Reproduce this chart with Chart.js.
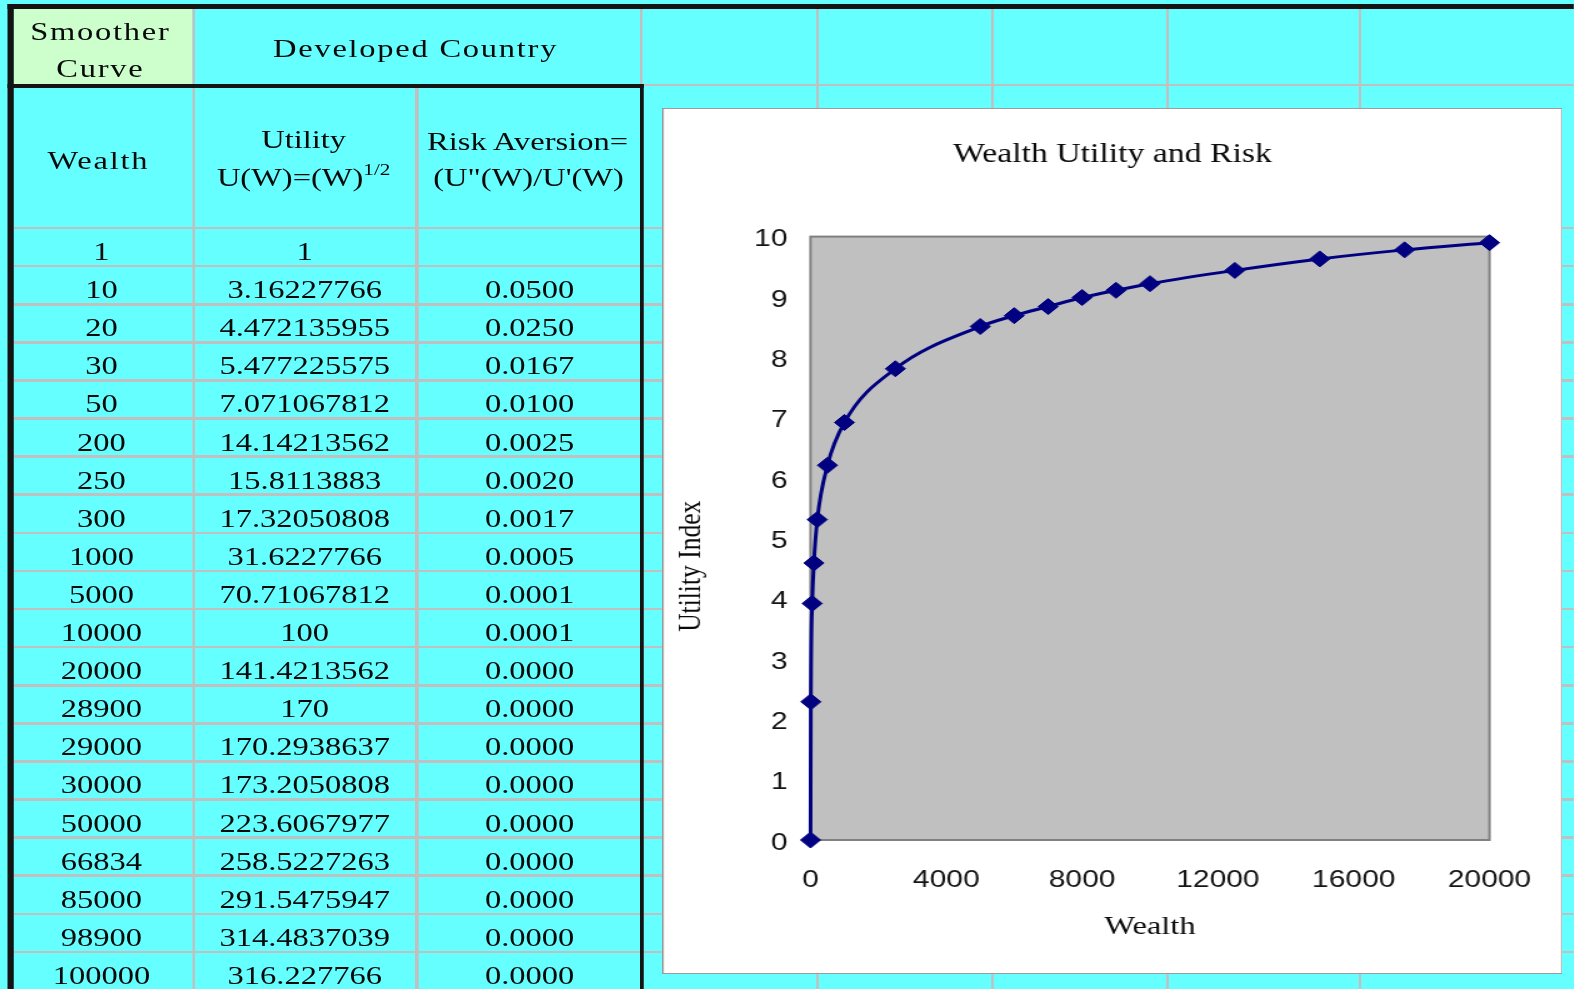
<!DOCTYPE html>
<html>
<head>
<meta charset="utf-8">
<title>Wealth Utility and Risk</title>
<script src="https://cdn.jsdelivr.net/npm/chart.js@4.4.1/dist/chart.umd.min.js"></script>
<style>
  html, body { margin: 0; padding: 0; }
  body { width: 1574px; height: 989px; overflow: hidden; background: #66ffff; position: relative; }
  /* the sheet is laid out narrow and widened as a whole */
  #sheet { position: absolute; left: 0; top: 0; width: 1259.2px; height: 989px;
           transform: scaleX(1.25); transform-origin: 0 0; }
  .ln { position: absolute; }
  .txt { position: absolute; text-align: center; white-space: nowrap;
         font-family: "Liberation Serif", "Times New Roman", serif; font-size: 26px; color: #0a0a0a;
         height: 30px; line-height: 30px; }
  .hdr { letter-spacing: 1.4px; }
  .txt sup { font-size: 17px; vertical-align: 11px; line-height: 0; }
  #chartBox { position: absolute; background: #fff; z-index: 5;
              outline: 1px solid #9c9c9c; outline-offset: -1px; }
  #chartBox canvas { position: absolute; left: 0; top: 0; }
</style>
</head>
<body>
<div id="sheet">
  <div id="chartBox"><canvas id="c"></canvas></div>
</div>
<script>
// ---- table: Developed Country ----
const wealth = [1, 10, 20, 30, 50, 200, 250, 300, 1000, 5000, 10000, 20000,
                28900, 29000, 30000, 50000, 66834, 85000, 98900, 100000];
const utility = ['1', '3.16227766', '4.472135955', '5.477225575', '7.071067812',
                 '14.14213562', '15.8113883', '17.32050808', '31.6227766', '70.71067812',
                 '100', '141.4213562', '170', '170.2938637', '173.2050808',
                 '223.6067977', '258.5227263', '291.5475947', '314.4837039', '316.227766'];
const riskAversion = ['', '0.0500', '0.0250', '0.0167', '0.0100', '0.0025', '0.0020',
                      '0.0017', '0.0005', '0.0001', '0.0001', '0.0000', '0.0000', '0.0000',
                      '0.0000', '0.0000', '0.0000', '0.0000', '0.0000', '0.0000'];

// ---- chart: Wealth Utility and Risk ----
const chartWealth  = [1, 10, 50, 100, 200, 500, 1000, 2500, 5000, 6000, 7000,
                      8000, 9000, 10000, 12500, 15000, 17500, 20000];
const chartUtility = [0, 2.29, 3.92, 4.59, 5.31, 6.21, 6.92, 7.81, 8.51, 8.69, 8.84,
                      8.99, 9.11, 9.22, 9.44, 9.63, 9.78, 9.9];
const xTicks = [0, 4000, 8000, 12000, 16000, 20000];
const yTicks = [0, 1, 2, 3, 4, 5, 6, 7, 8, 9, 10];

// ---- sheet drawing ----
const S = 1.25;                       // horizontal widening of the sheet
const sheet = document.getElementById('sheet');
const chartBox = document.getElementById('chartBox');
const ROW0 = 228, ROWH = 38.1;        // first data row top, row height

function rect(x1, y1, x2, y2, color) {
  const d = document.createElement('div');
  d.className = 'ln';
  d.style.left = (x1 / S) + 'px';
  d.style.top = y1 + 'px';
  d.style.width = ((x2 - x1) / S) + 'px';
  d.style.height = (y2 - y1) + 'px';
  d.style.background = color;
  sheet.insertBefore(d, chartBox);
}
function text(cx, cy, html, cls) {
  const d = document.createElement('div');
  d.className = 'txt' + (cls ? ' ' + cls : '');
  d.style.left = ((cx - 200) / S) + 'px';
  d.style.width = (400 / S) + 'px';
  d.style.top = (cy - 15) + 'px';
  d.innerHTML = html;
  sheet.insertBefore(d, chartBox);
}

const GRID = '#c0c0c0', INK = '#141414';
// "Smoother Curve" cell
rect(14, 8.5, 193, 84, '#ccffcc');
// horizontal grid lines
for (let k = 0; k <= 20; k++) {
  const y = ROW0 + ROWH * k;
  rect(14, y - 1.3, 1574, y + 1.4, GRID);
}
rect(641, 83.5, 1574, 86.2, GRID);
// vertical grid lines
rect(192.6, 8.5, 195.4, 989, GRID);
rect(415.6, 88, 418.4, 989, GRID);
rect(639.6, 8.5, 642.4, 84, GRID);
[816, 991.5, 1166.5, 1358.5].forEach(x => rect(x, 8.5, x + 2.8, 989, GRID));
// heavy borders
rect(8, 4, 1574, 8.5, INK);
rect(8, 4, 14, 989, INK);
rect(8, 84, 644, 88, INK);
rect(640, 84, 644, 989, INK);

// header text
text(100.4, 31.5, 'Smoother', 'hdr');
text(100.4, 68.5, 'Curve', 'hdr');
text(415.6, 48.5, 'Developed Country', 'hdr');
text(98.4, 160.6, 'Wealth', 'hdr');
text(303.7, 139.5, 'Utility');
text(303.7, 177.7, 'U(W)=(W)<sup>1/2</sup>');
text(527.6, 141.6, 'Risk Aversion=');
text(528.6, 177.7, '(U"(W)/U\'(W)');

// body rows
wealth.forEach((w, k) => {
  const cy = ROW0 + ROWH * k + 24;
  text(101.4, cy, String(w));
  text(304.7, cy, utility[k]);
  text(529.6, cy, riskAversion[k]);
});

// ---- chart ----
const CH_W = 900 / S, CH_H = 866;
chartBox.style.left = (662 / S) + 'px';
chartBox.style.top = '108px';
chartBox.style.width = CH_W + 'px';
chartBox.style.height = CH_H + 'px';
const canvas = document.getElementById('c');
canvas.width = CH_W; canvas.height = CH_H;
canvas.style.width = CH_W + 'px'; canvas.style.height = CH_H + 'px';

// grey plot area with its frame
const plotFrame = {
  id: 'plotFrame',
  beforeDatasetsDraw(chart) {
    const { ctx, chartArea: a } = chart;
    ctx.save();
    ctx.fillStyle = '#c0c0c0';
    ctx.fillRect(a.left, a.top, a.right - a.left, a.bottom - a.top);
    ctx.strokeStyle = '#808080';
    ctx.lineWidth = 2;
    ctx.strokeRect(a.left, a.top, a.right - a.left, a.bottom - a.top);
    ctx.restore();
  }
};
// vertical axis caption, set a little below the middle of the axis
const yCaption = {
  id: 'yCaption',
  afterDraw(chart) {
    const { ctx, chartArea: a } = chart;
    ctx.save();
    ctx.translate(a.left - 95, (a.top + a.bottom) / 2 + 28);
    ctx.rotate(-Math.PI / 2);
    ctx.font = '25.5px "Liberation Serif", "Times New Roman", serif';
    ctx.fillStyle = '#0a0a0a';
    ctx.textAlign = 'center';
    ctx.textBaseline = 'middle';
    ctx.fillText('Utility Index', 0, 0);
    ctx.restore();
  }
};

const sans = "'Liberation Sans', Arial, sans-serif";
const serif = "'Liberation Serif', 'Times New Roman', serif";

new Chart(canvas, {
  type: 'line',
  data: {
    datasets: [{
      data: chartWealth.map((x, i) => ({ x, y: chartUtility[i] })),
      borderColor: '#000080',
      backgroundColor: '#000080',
      borderWidth: 3,
      pointStyle: 'rectRot',
      pointRadius: 8,
      pointBorderWidth: 1,
      pointBackgroundColor: '#000080',
      pointBorderColor: '#000080',
      cubicInterpolationMode: 'monotone',
      fill: false,
      clip: false
    }]
  },
  options: {
    responsive: false,
    animation: false,
    devicePixelRatio: 1,
    layout: { padding: { left: 0, right: 0, top: 0, bottom: 31.3 } },
    plugins: {
      legend: { display: false },
      tooltip: { enabled: false },
      title: {
        display: true,
        text: 'Wealth Utility and Risk',
        color: '#0a0a0a',
        font: { family: serif, size: 27, weight: 'normal' },
        padding: { top: 30.4, bottom: 65.8 }
      }
    },
    scales: {
      x: {
        type: 'linear', min: 0, max: 20000,
        grid: { display: false, drawTicks: false }, border: { display: false },
        ticks: { color: '#141414', font: { family: sans, size: 24 }, padding: 26,
                 maxRotation: 0, autoSkip: false, callback: v => String(v) },
        afterBuildTicks: s => { s.ticks = xTicks.map(v => ({ value: v })); },
        afterFit: s => { s.height = 102.7; s.paddingRight = CH_W - 827 / S; },
        title: { display: true, text: 'Wealth', color: '#0a0a0a',
                 font: { family: serif, size: 26 }, padding: { top: 0, bottom: 0 } }
      },
      y: {
        min: 0, max: 10,
        grid: { display: false, drawTicks: false }, border: { display: false },
        ticks: { color: '#141414', font: { family: sans, size: 24 }, padding: 18.4,
                 labelOffset: 3, autoSkip: false, callback: v => String(v) },
        afterBuildTicks: s => { s.ticks = yTicks.map(v => ({ value: v })); },
        afterFit: s => { s.width = 148 / S; }
      }
    }
  },
  plugins: [plotFrame, yCaption]
});
</script>
</body>
</html>
